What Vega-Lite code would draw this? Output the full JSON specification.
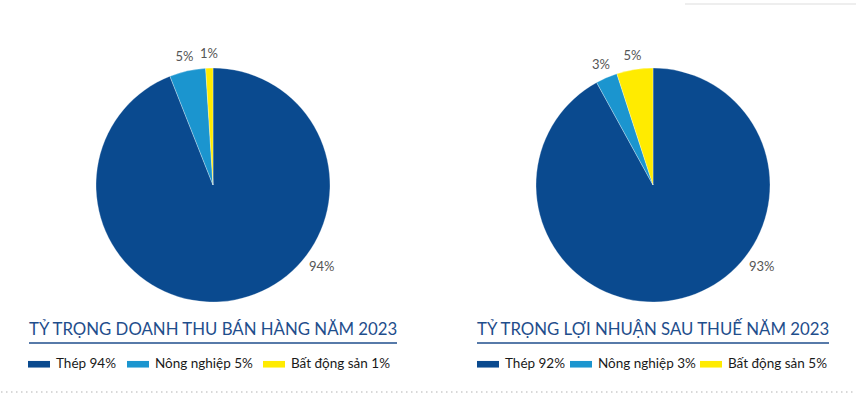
{
  "$schema": "https://vega.github.io/schema/vega-lite/v6.json",
  "padding": 0,
  "spacing": 24,
  "bounds": "flush",
  "background": "#ffffff",
  "config": {"view": {"stroke": null}, "font": "Lato"},
  "resolve": {"scale": {"color": "independent", "theta": "independent"}, "legend": {"color": "independent"}},
  "hconcat": [
    {
      "width": 424,
      "height": 370,
      "data": {"values": [
        {"cat": "Thép 94%", "value": 94, "label": "94%", "o": 1, "big": true},
        {"cat": "Nông nghiệp 5%", "value": 5, "label": "5%", "o": 2, "big": false},
        {"cat": "Bất động sản 1%", "value": 1, "label": "1%", "o": 3, "big": false}
      ]},
      "layer": [
        {
          "mark": {"type": "arc", "outerRadius": 117, "stroke": "#ffffff", "strokeWidth": 0.3},
          "encoding": {
            "theta": {"field": "value", "type": "quantitative", "stack": true},
            "order": {"field": "o"},
            "color": {
              "field": "cat", "type": "nominal",
              "scale": {"domain": ["Thép 94%", "Nông nghiệp 5%", "Bất động sản 1%"], "range": ["#0A4A8F", "#1B95CF", "#FFEB00"]},
              "legend": {"orient": "none", "legendX": 27, "legendY": 353, "direction": "horizontal", "title": null,
                "symbolType": "M-1,-0.3H1V0.3H-1Z", "symbolSize": 484, "symbolStrokeWidth": 0,
                "labelFont": "Lato", "labelFontSize": 13.5, "labelColor": "#1a1a1a", "labelOffset": 6, "columnPadding": 10}
            }
          }
        },
        {
          "mark": {"type": "text", "radius": 131, "fontSize": 13, "font": "Lato", "color": "#555555"},
          "encoding": {
            "theta": {"field": "value", "type": "quantitative", "stack": true},
            "order": {"field": "o"},
            "detail": {"field": "cat"},
            "text": {"condition": {"test": "!datum.big", "field": "label"}, "value": ""}
          }
        },
        {
          "mark": {"type": "text", "radius": 136, "thetaOffset": -0.737, "fontSize": 13, "font": "Lato", "color": "#555555"},
          "encoding": {
            "theta": {"field": "value", "type": "quantitative", "stack": true},
            "order": {"field": "o"},
            "detail": {"field": "cat"},
            "text": {"condition": {"test": "datum.big", "field": "label"}, "value": ""}
          }
        },
        {
          "data": {"values": [{"t": "TỶ TRỌNG DOANH THU BÁN HÀNG NĂM 2023"}]},
          "mark": {"type": "text", "align": "left", "baseline": "alphabetic", "fontSize": 16.8, "font": "Lato", "color": "#1F4E8C"},
          "encoding": {"text": {"field": "t"}, "x": {"value": 28}, "y": {"value": 335}}
        },
        {
          "data": {"values": [{}]},
          "mark": {"type": "rule", "color": "#1F4E8C", "strokeWidth": 1.5},
          "encoding": {"x": {"value": 28}, "x2": {"value": 396}, "y": {"value": 343}}
        },
        {
          "data": {"values": [{}]},
          "mark": {"type": "rule", "color": "#cccccc", "strokeWidth": 1.5, "strokeDash": [1.5, 3.5]},
          "encoding": {"x": {"value": 0}, "x2": {"value": 856}, "y": {"value": 392}}
        }
      ]
    },
    {
      "width": 408,
      "height": 370,
      "data": {"values": [
        {"cat": "Thép 92%", "value": 92, "label": "93%", "o": 1, "big": true},
        {"cat": "Nông nghiệp 3%", "value": 3, "label": "3%", "o": 2, "big": false},
        {"cat": "Bất động sản 5%", "value": 5, "label": "5%", "o": 3, "big": false}
      ]},
      "layer": [
        {
          "mark": {"type": "arc", "outerRadius": 117, "stroke": "#ffffff", "strokeWidth": 0.3},
          "encoding": {
            "theta": {"field": "value", "type": "quantitative", "stack": true},
            "order": {"field": "o"},
            "color": {
              "field": "cat", "type": "nominal",
              "scale": {"domain": ["Thép 92%", "Nông nghiệp 3%", "Bất động sản 5%"], "range": ["#0A4A8F", "#1B95CF", "#FFEB00"]},
              "legend": {"orient": "none", "legendX": 28, "legendY": 353, "direction": "horizontal", "title": null,
                "symbolType": "M-1,-0.3H1V0.3H-1Z", "symbolSize": 484, "symbolStrokeWidth": 0,
                "labelFont": "Lato", "labelFontSize": 13.5, "labelColor": "#1a1a1a", "labelOffset": 6, "columnPadding": 4}
            }
          }
        },
        {
          "mark": {"type": "text", "radius": 131, "fontSize": 13, "font": "Lato", "color": "#555555"},
          "encoding": {
            "theta": {"field": "value", "type": "quantitative", "stack": true},
            "order": {"field": "o"},
            "detail": {"field": "cat"},
            "text": {"condition": {"test": "!datum.big", "field": "label"}, "value": ""}
          }
        },
        {
          "mark": {"type": "text", "radius": 136, "thetaOffset": -0.674, "fontSize": 13, "font": "Lato", "color": "#555555"},
          "encoding": {
            "theta": {"field": "value", "type": "quantitative", "stack": true},
            "order": {"field": "o"},
            "detail": {"field": "cat"},
            "text": {"condition": {"test": "datum.big", "field": "label"}, "value": ""}
          }
        },
        {
          "data": {"values": [{"t": "TỶ TRỌNG LỢI NHUẬN SAU THUẾ NĂM 2023"}]},
          "mark": {"type": "text", "align": "left", "baseline": "alphabetic", "fontSize": 16.8, "font": "Lato", "color": "#1F4E8C"},
          "encoding": {"text": {"field": "t"}, "x": {"value": 28}, "y": {"value": 335}}
        },
        {
          "data": {"values": [{}]},
          "mark": {"type": "rule", "color": "#1F4E8C", "strokeWidth": 1.5},
          "encoding": {"x": {"value": 28}, "x2": {"value": 380}, "y": {"value": 343}}
        },
        {
          "data": {"values": [{}]},
          "mark": {"type": "rule", "color": "#dddddd", "strokeWidth": 1},
          "encoding": {"x": {"value": 236}, "x2": {"value": 408}, "y": {"value": 4}}
        }
      ]
    }
  ]
}
